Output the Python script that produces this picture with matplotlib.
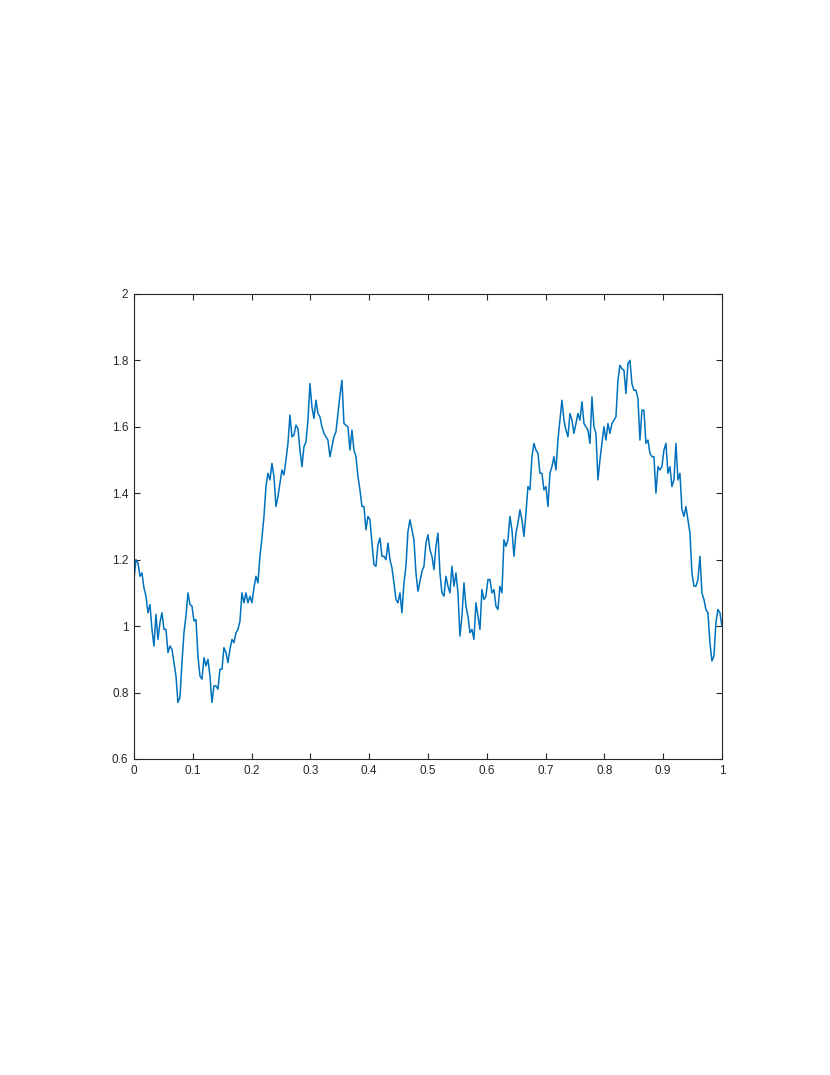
import numpy as np
import matplotlib
matplotlib.use("Agg")
import matplotlib.pyplot as plt

# signal values, evenly spaced over [0, 1]
y_vals = [
    1.14, 1.20, 1.19, 1.15, 1.16, 1.115, 1.09, 1.04, 1.065, 0.99,
    0.94, 1.035, 0.96, 1.01, 1.04, 0.99, 0.99, 0.92, 0.94, 0.93,
    0.89, 0.85, 0.77, 0.785, 0.89, 0.98, 1.03, 1.10, 1.065, 1.06,
    1.015, 1.02, 0.91, 0.85, 0.84, 0.905, 0.88, 0.90, 0.85, 0.77,
    0.82, 0.82, 0.81, 0.87, 0.87, 0.935, 0.92, 0.89, 0.93, 0.96,
    0.95, 0.98, 0.99, 1.015, 1.10, 1.07, 1.10, 1.07, 1.09, 1.07,
    1.115, 1.15, 1.13, 1.21, 1.265, 1.33, 1.42, 1.46, 1.44, 1.49,
    1.45, 1.36, 1.39, 1.43, 1.47, 1.455, 1.50, 1.55, 1.635, 1.57,
    1.575, 1.605, 1.595, 1.53, 1.48, 1.54, 1.555, 1.62, 1.73, 1.66,
    1.625, 1.68, 1.64, 1.63, 1.60, 1.58, 1.57, 1.56, 1.51, 1.54,
    1.57, 1.585, 1.64, 1.695, 1.74, 1.61, 1.605, 1.60, 1.53, 1.59,
    1.53, 1.51, 1.45, 1.41, 1.36, 1.36, 1.29, 1.33, 1.32, 1.25,
    1.185, 1.18, 1.245, 1.265, 1.21, 1.21, 1.20, 1.25, 1.20, 1.175,
    1.13, 1.08, 1.07, 1.10, 1.04, 1.13, 1.18, 1.285, 1.32, 1.29,
    1.26, 1.16, 1.105, 1.135, 1.165, 1.18, 1.25, 1.275, 1.23, 1.21,
    1.17, 1.24, 1.28, 1.16, 1.10, 1.09, 1.15, 1.12, 1.10, 1.18,
    1.12, 1.16, 1.10, 0.97, 1.03, 1.13, 1.06, 1.03, 0.98, 0.99,
    0.96, 1.07, 1.03, 0.99, 1.11, 1.08, 1.09, 1.14, 1.14, 1.10,
    1.11, 1.06, 1.05, 1.12, 1.10, 1.26, 1.24, 1.26, 1.33, 1.29,
    1.21, 1.28, 1.31, 1.35, 1.32, 1.27, 1.34, 1.42, 1.41, 1.51,
    1.55, 1.53, 1.52, 1.46, 1.46, 1.41, 1.42, 1.36, 1.46, 1.48,
    1.51, 1.47, 1.56, 1.62, 1.68, 1.62, 1.59, 1.57, 1.64, 1.62,
    1.58, 1.61, 1.64, 1.62, 1.675, 1.61, 1.60, 1.59, 1.55, 1.69,
    1.60, 1.58, 1.44, 1.50, 1.55, 1.60, 1.56, 1.61, 1.58, 1.61,
    1.62, 1.63, 1.74, 1.785, 1.775, 1.77, 1.70, 1.79, 1.80, 1.73,
    1.71, 1.71, 1.685, 1.56, 1.65, 1.65, 1.55, 1.56, 1.52, 1.51,
    1.51, 1.40, 1.48, 1.47, 1.48, 1.53, 1.55, 1.46, 1.48, 1.42,
    1.44, 1.55, 1.44, 1.46, 1.35, 1.33, 1.36, 1.32, 1.28, 1.16,
    1.12, 1.12, 1.14, 1.21, 1.10, 1.08, 1.05, 1.04, 0.95, 0.895,
    0.91, 1.01, 1.05, 1.04, 1.00,
]
x_vals = np.linspace(0, 1, len(y_vals))

x_ticks = [0, 0.1, 0.2, 0.3, 0.4, 0.5, 0.6, 0.7, 0.8, 0.9, 1]
x_ticklabels = ["0", "0.1", "0.2", "0.3", "0.4", "0.5", "0.6", "0.7", "0.8", "0.9", "1"]
y_ticks = [0.6, 0.8, 1.0, 1.2, 1.4, 1.6, 1.8, 2.0]
y_ticklabels = ["0.6", "0.8", "1", "1.2", "1.4", "1.6", "1.8", "2"]

plt.rcParams["font.family"] = ["Liberation Sans", "DejaVu Sans"]

fig = plt.figure(figsize=[8.3, 10.75], dpi=100)
ax = fig.add_axes([0.1614, 0.2940, 0.7084, 0.4326])

ax.plot(x_vals, y_vals, color="#0072BD", linewidth=1.1)

ax.set_xlim(0, 1)
ax.set_ylim(0.6, 2)
ax.set_xticks(x_ticks)
ax.set_xticklabels(x_ticklabels)
ax.set_yticks(y_ticks)
ax.set_yticklabels(y_ticklabels)

edge = "#262626"
for s in ax.spines.values():
    s.set_color(edge)
    s.set_linewidth(0.8)
ax.tick_params(direction="in", length=4, width=0.8, color=edge,
               labelcolor=edge, labelsize=8.5, top=True, right=True, pad=4)

fig.savefig("out.png", dpi=100)
